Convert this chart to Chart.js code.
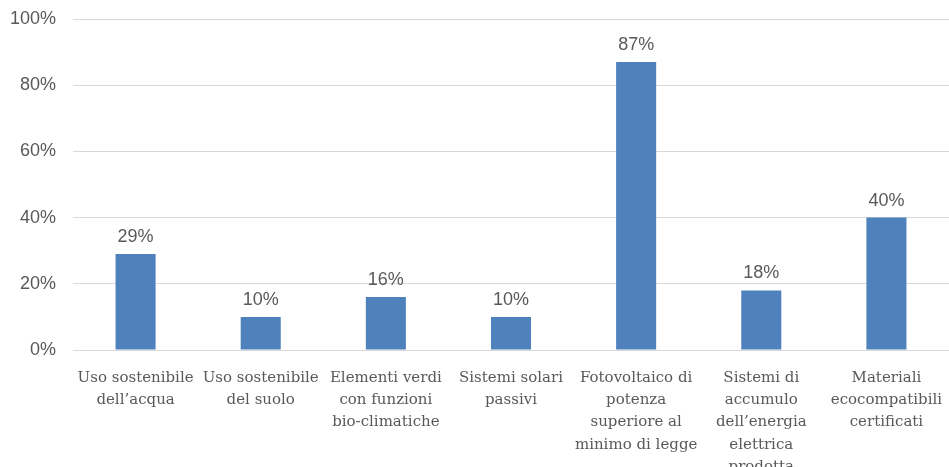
<!DOCTYPE html>
<html>
<head>
<meta charset="utf-8">
<script src="https://cdn.jsdelivr.net/npm/chart.js@4/dist/chart.umd.min.js"></script>
<style>
html,body{margin:0;padding:0;background:#fff;}
#wrap{width:949px;height:467px;position:relative;}
</style>
</head>
<body>
<div id="wrap"><canvas id="c"></canvas></div>
<script>
const categories = [
  ["Uso sostenibile", "dell\u2019acqua"],
  ["Uso sostenibile", "del suolo"],
  ["Elementi verdi", "con funzioni", "bio-climatiche"],
  ["Sistemi solari", "passivi"],
  ["Fotovoltaico di", "potenza", "superiore al", "minimo di legge"],
  ["Sistemi di", "accumulo", "dell\u2019energia", "elettrica", "prodotta"],
  ["Materiali", "ecocompatibili", "certificati"]
];
const values = [29, 10, 16, 10, 87, 18, 40];
const yTicks = [0, 20, 40, 60, 80, 100];

const labelPlugin = {
  id: 'valueLabels',
  afterDatasetsDraw(chart) {
    const ctx = chart.ctx;
    const meta = chart.getDatasetMeta(0);
    ctx.save();
    ctx.font = '18px "Liberation Sans", Arial, sans-serif';
    ctx.fillStyle = '#595959';
    ctx.textAlign = 'center';
    ctx.textBaseline = 'bottom';
    meta.data.forEach((bar, i) => {
      ctx.fillText(values[i] + '%', bar.x, bar.y - 8);
    });
    ctx.restore();
  }
};

new Chart(document.getElementById('c'), {
  type: 'bar',
  data: {
    labels: categories,
    datasets: [{
      data: values,
      backgroundColor: '#4F81BD',
      barPercentage: 0.32,
      categoryPercentage: 1.0
    }]
  },
  options: {
    responsive: true,
    maintainAspectRatio: false,
    animation: false,
    layout: { padding: { top: 19, right: 0, bottom: 0, left: 0 } },
    plugins: { legend: { display: false }, tooltip: { enabled: false } },
    scales: {
      x: {
        grid: { display: false, drawTicks: false },
        border: { display: true, color: '#d9d9d9', width: 1 },
        ticks: {
          color: '#595959',
          font: { family: '"DejaVu Serif", serif', size: 15, lineHeight: 1.48 },
          padding: 17,
          maxRotation: 0,
          autoSkip: false
        },
        afterFit(scale) {
          scale.height = 117;
          scale.paddingLeft = 0; scale.paddingRight = 0;
          scale.paddingTop = 0; scale.paddingBottom = 0;
        }
      },
      y: {
        min: 0, max: 100,
        afterBuildTicks(scale) { scale.ticks = yTicks.map(v => ({ value: v })); },
        grid: { color: '#d9d9d9', drawTicks: false, lineWidth: 1 },
        border: { display: false },
        ticks: {
          color: '#595959',
          font: { family: '"Liberation Sans", Arial, sans-serif', size: 18 },
          padding: 17,
          callback: v => v + '%'
        },
        afterFit(scale) {
          scale.width = 73;
          scale.paddingTop = 0; scale.paddingBottom = 0;
          scale.paddingLeft = 0; scale.paddingRight = 0;
        }
      }
    }
  },
  plugins: [labelPlugin]
});
</script>
</body>
</html>
